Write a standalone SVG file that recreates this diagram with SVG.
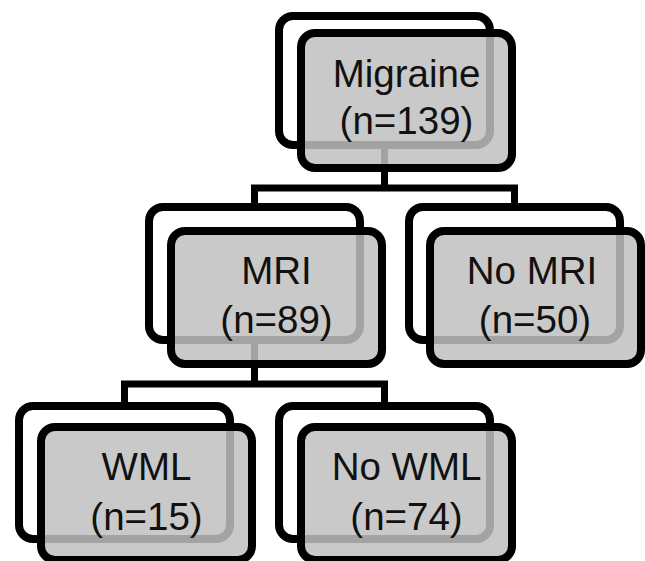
<svg xmlns="http://www.w3.org/2000/svg" width="645" height="561" viewBox="0 0 645 561">
<style>
.back{fill:#ffffff;stroke:#000;stroke-width:8}
.front{fill:#bfbfbf;fill-opacity:0.85;stroke:#000;stroke-width:8}
.conn{fill:none;stroke:#000;stroke-width:7;stroke-linejoin:miter}
text{font-family:"Liberation Sans",Arial,sans-serif;font-size:38.5px;fill:#111;text-anchor:middle}
</style>
<rect width="645" height="561" fill="#fff"/>
<g id="connectors">
<path class="conn" d="M384.5,145 V188 M254.5,207 V188 H514.5 V207"/>
<path class="conn" d="M254.5,340 V384 M124.5,406 V384 H384.5 V406"/>
</g>
<g id="migraine">
<rect class="back" x="279" y="16" width="211" height="129" rx="14"/>
<rect class="front" x="301" y="33" width="211" height="135" rx="14"/>
<text x="406.5" y="87">Migraine</text>
<text x="406.5" y="134">(n=139)</text>
</g>
<g id="mri">
<rect class="back" x="149" y="207" width="211" height="133" rx="14"/>
<rect class="front" x="171" y="231" width="211" height="133" rx="14"/>
<text x="276.5" y="284">MRI</text>
<text x="276.5" y="333">(n=89)</text>
</g>
<g id="no-mri">
<rect class="back" x="409" y="207" width="211" height="133" rx="14"/>
<rect class="front" x="430" y="231" width="211" height="133" rx="14"/>
<text x="532" y="284">No MRI</text>
<text x="535" y="333">(n=50)</text>
</g>
<g id="wml">
<rect class="back" x="19" y="406" width="211" height="133" rx="14"/>
<rect class="front" x="41" y="427" width="211" height="133" rx="14"/>
<text x="146.5" y="480">WML</text>
<text x="146.5" y="530">(n=15)</text>
</g>
<g id="no-wml">
<rect class="back" x="279" y="406" width="211" height="133" rx="14"/>
<rect class="front" x="301" y="427" width="211" height="133" rx="14"/>
<text x="406.5" y="480">No WML</text>
<text x="406.5" y="530">(n=74)</text>
</g>
</svg>
